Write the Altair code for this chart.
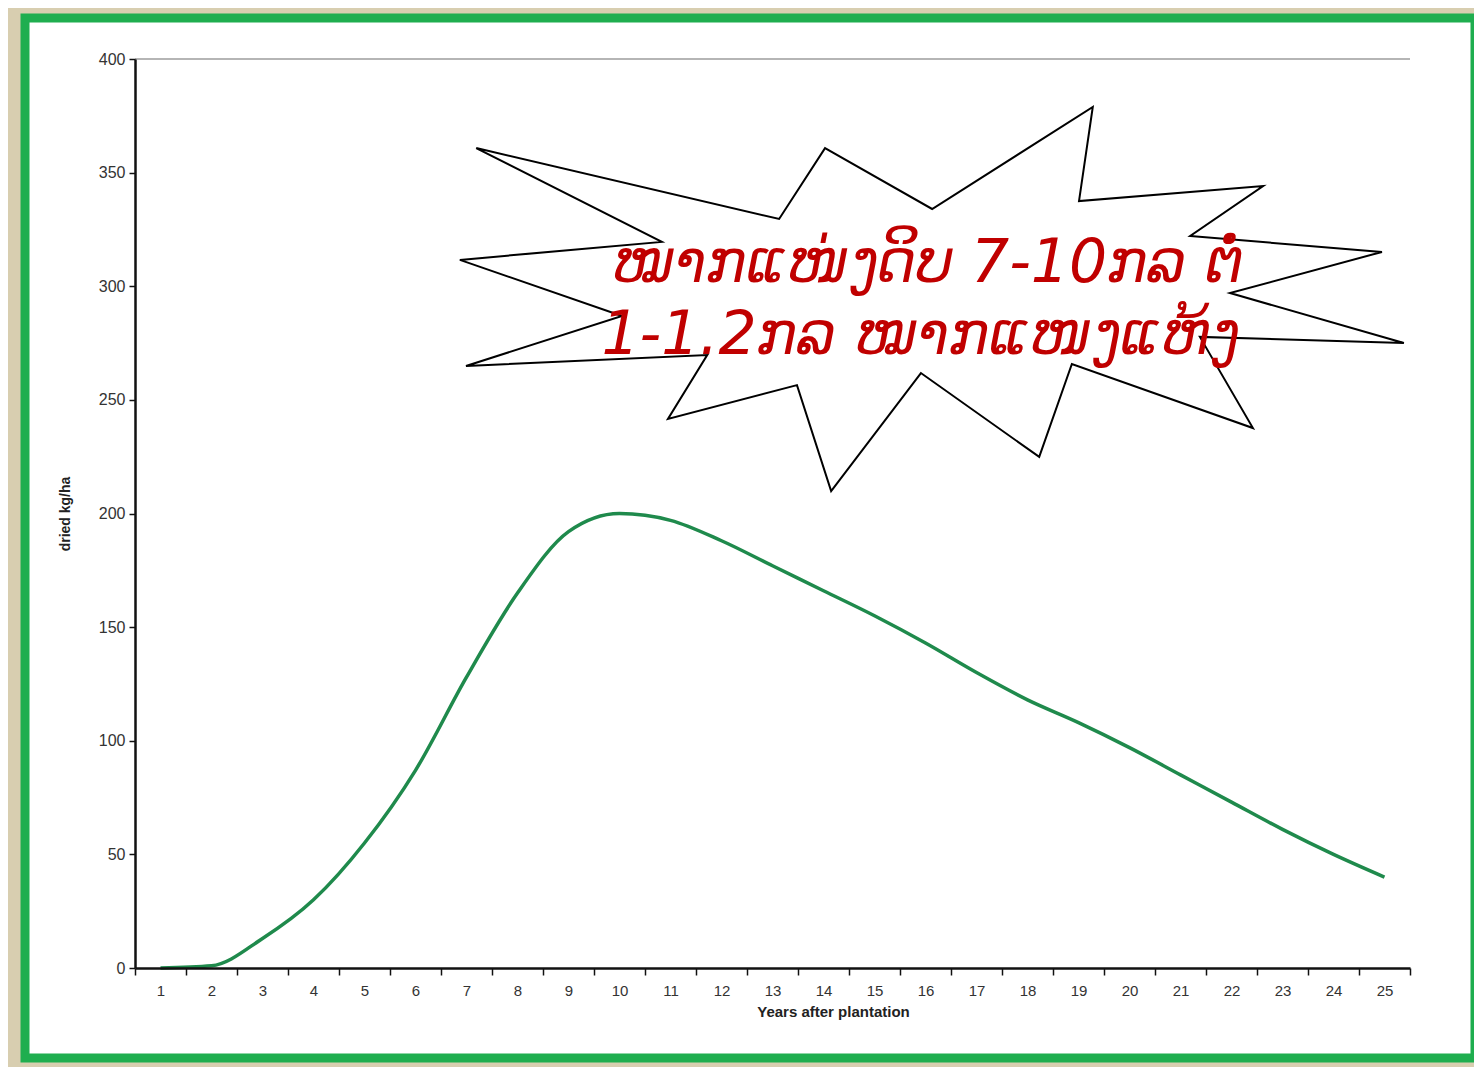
import altair as alt
import pandas as pd

# ---- data ----
years = list(range(1, 26))
yield_kg = [0, 1, 13, 30, 55, 87, 128, 165, 192, 200, 197, 188, 177, 166, 155,
            143, 130, 118, 108, 97, 85, 73, 61, 50, 40]

tick_positions = [i + 0.5 for i in range(0, 26)]
y_ticks = [0, 50, 100, 150, 200, 250, 300, 350, 400]

# starburst callout outline (in data units: year, kg/ha)
star_x = [7.19, 13.13, 14.03, 16.13, 19.28, 19.01, 22.62, 21.19, 24.95, 21.97,
          25.38, 21.38, 22.42, 18.87, 18.23, 15.91, 14.15, 13.48, 10.95, 11.72,
          6.99, 10.05, 6.87, 10.83, 7.19]
star_y = [360.8, 329.6, 360.8, 334.0, 378.9, 337.5, 344.1, 322.1, 315.1, 297.0,
          275.0, 277.7, 237.6, 265.8, 224.9, 261.8, 209.9, 256.5, 241.6, 269.7,
          264.9, 286.9, 311.6, 319.5, 360.8]

callout_lines = ["ໝາກແໜ່ງດິບ 7-10ກລ ຕໍ່", "1-1.2ກລ ໝາກແໜງແຫ້ງ"]
callout_x = [16.05, 15.9]
callout_y = [310.0, 278.0]

W, H = 1275, 909

df = pd.DataFrame({"year": years, "kg": yield_kg})
star_df = pd.DataFrame({"x": star_x, "y": star_y, "order": list(range(len(star_x)))})
text_df = pd.DataFrame({"x": callout_x, "y": callout_y, "t": callout_lines})
top_df = pd.DataFrame({"y": [400]})
frame_df = pd.DataFrame({"a": [0]})

xscale = alt.Scale(domain=[0.5, 25.5], nice=False, zero=False)
yscale = alt.Scale(domain=[0, 400], nice=False)

frame = alt.Chart(frame_df).mark_rect(
    fill="#ffffff", stroke="#1fae4f", strokeWidth=9
).encode(
    x=alt.value(-110), x2=alt.value(W + 65),
    y=alt.value(-41), y2=alt.value(H + 90),
)

top_rule = alt.Chart(top_df).mark_rule(color="#b5b5b5", strokeWidth=2).encode(
    y=alt.Y("y:Q", scale=yscale)
)

line = alt.Chart(df).mark_line(
    color="#1f8a4c", strokeWidth=3.5, interpolate="monotone"
).encode(
    x=alt.X(
        "year:Q", scale=xscale,
        axis=alt.Axis(
            values=tick_positions,
            labelExpr="datum.value < 25 ? format(datum.value + 0.5, 'd') : ''",
            labelOffset=25.5,
            labelFlush=False,
            labelOverlap=False,
            labelBound=False,
            tickSize=7, tickWidth=1.5, tickColor="#111111",
            domainColor="#111111", domainWidth=2.5,
            labelFont="Liberation Sans", labelFontSize=15, labelColor="#333333",
            labelPadding=8,
            grid=False,
            title="Years after plantation",
            titleFont="Liberation Sans", titleFontSize=15, titleFontWeight="bold",
            titleColor="#222222", titlePadding=6, titleX=698,
            zindex=1,
        ),
    ),
    y=alt.Y(
        "kg:Q", scale=yscale,
        axis=alt.Axis(
            values=y_ticks,
            tickSize=6, tickWidth=1.5, tickColor="#111111",
            domainColor="#111111", domainWidth=2.5,
            labelFont="Liberation Sans", labelFontSize=16, labelColor="#333333",
            labelPadding=4,
            grid=False,
            title="dried kg/ha",
            titleFont="Liberation Sans", titleFontSize=14, titleFontWeight="bold",
            titleColor="#222222", titlePadding=26,
            zindex=1,
        ),
    ),
)

star = alt.Chart(star_df).mark_line(color="#000000", strokeWidth=2).encode(
    x=alt.X("x:Q", scale=xscale),
    y=alt.Y("y:Q", scale=yscale),
    order="order:Q",
)

text = alt.Chart(text_df).mark_text(
    font="DejaVu Sans", fontSize=60, fontStyle="italic", color="#c00000",
    align="center", baseline="middle",
).encode(
    x=alt.X("x:Q", scale=xscale),
    y=alt.Y("y:Q", scale=yscale),
    text="t:N",
)

chart = alt.layer(frame, top_rule, line, star, text).properties(
    width=W, height=H,
    background="#d8ceb0",
    padding={"left": 127, "top": 51, "right": 64, "bottom": 99},
    autosize=alt.AutoSizeParams(type="none"),
).configure_view(stroke=None)

chart.save("out.html", embed_options={"renderer": "svg", "actions": False})
